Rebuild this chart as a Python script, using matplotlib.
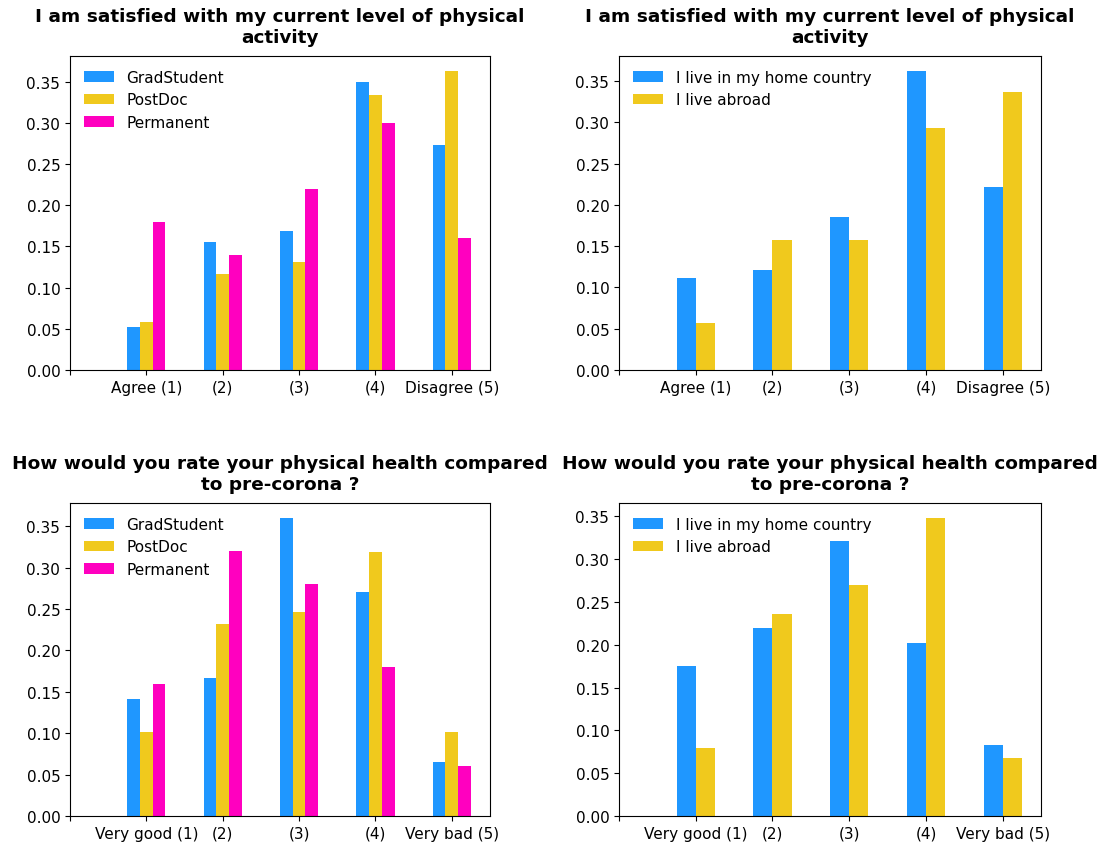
import numpy as np
import matplotlib
matplotlib.use("Agg")
import matplotlib.pyplot as plt

# categories
agree_labels = ["Agree (1)", "(2)", "(3)", "(4)", "Disagree (5)"]
health_labels = ["Very good (1)", "(2)", "(3)", "(4)", "Very bad (5)"]

title_activity = "I am satisfied with my current level of physical\nactivity"
title_health = "How would you rate your physical health compared\nto pre-corona ?"

# activity by position
act_grad = [0.052, 0.156, 0.169, 0.350, 0.273]
act_postdoc = [0.058, 0.116, 0.131, 0.334, 0.363]
act_perm = [0.18, 0.14, 0.22, 0.30, 0.16]

# activity by home/abroad
act_home = [0.111, 0.121, 0.185, 0.362, 0.222]
act_abroad = [0.057, 0.158, 0.158, 0.293, 0.337]

# health by position
hlt_grad = [0.141, 0.167, 0.360, 0.270, 0.065]
hlt_postdoc = [0.101, 0.232, 0.246, 0.319, 0.101]
hlt_perm = [0.16, 0.32, 0.28, 0.18, 0.06]

# health by home/abroad
hlt_home = [0.175, 0.220, 0.321, 0.202, 0.083]
hlt_abroad = [0.079, 0.236, 0.270, 0.348, 0.068]

BLUE = "#1f97ff"
YELLOW = "#f0c91d"
PINK = "#ff00bf"


def grouped_bars(ax, labels, series, names, colors, title):
    n = len(series)
    w = 0.5 / n
    x = np.arange(len(labels))
    for i in range(n):
        ax.bar(x - 0.25 + w * (i + 0.5), series[i], w, color=colors[i], label=names[i])
    ax.set_xticks([-1] + list(x))
    ax.set_xticklabels([""] + labels, fontsize=11)
    ax.set_xlim(-1, 4.5)
    ax.tick_params(axis="y", labelsize=11)
    ax.legend(loc="upper left", frameon=False, fontsize=11)
    ax.set_title(title, fontsize=13.3, fontweight="bold", pad=10)


fig = plt.figure(figsize=(10.97, 8.45), dpi=100)
ax1 = fig.add_axes([0.0638, 0.5609, 0.3829, 0.3716])
ax2 = fig.add_axes([0.5643, 0.5609, 0.3847, 0.3716])
ax3 = fig.add_axes([0.0638, 0.0331, 0.3829, 0.3704])
ax4 = fig.add_axes([0.5643, 0.0331, 0.3847, 0.3704])

grouped_bars(ax1, agree_labels, [act_grad, act_postdoc, act_perm],
             ["GradStudent", "PostDoc", "Permanent"], [BLUE, YELLOW, PINK], title_activity)
grouped_bars(ax2, agree_labels, [act_home, act_abroad],
             ["I live in my home country", "I live abroad"], [BLUE, YELLOW], title_activity)
grouped_bars(ax3, health_labels, [hlt_grad, hlt_postdoc, hlt_perm],
             ["GradStudent", "PostDoc", "Permanent"], [BLUE, YELLOW, PINK], title_health)
grouped_bars(ax4, health_labels, [hlt_home, hlt_abroad],
             ["I live in my home country", "I live abroad"], [BLUE, YELLOW], title_health)

fig.savefig("out.png", dpi=100)
